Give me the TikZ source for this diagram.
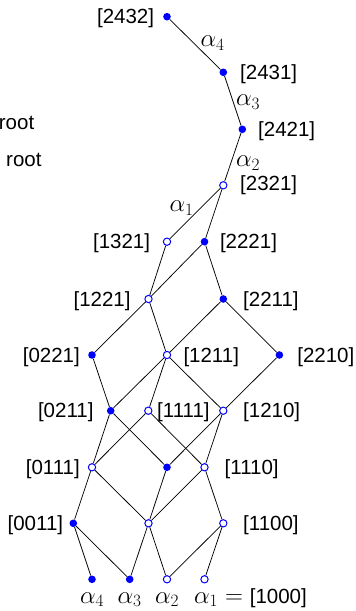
\documentclass[tikz,border=0pt]{standalone}
\usepackage{fontspec}
\setmainfont{Liberation Sans}
\begin{document}
\begin{tikzpicture}[x=1pt,y=-1pt, font=\fontsize{20.5}{24}\selectfont,
  fdot/.style={circle,fill=blue,inner sep=0pt,minimum size=7.6pt},
  odot/.style={circle,draw=blue,fill=white,line width=1pt,inner sep=0pt,minimum size=7.3pt},
  edge/.style={line width=0.75pt},
  rl/.style={anchor=base west,inner sep=0pt,xshift=#1,yshift=-7.2pt},
  ll/.style={anchor=base east,inner sep=0pt,xshift=-#1,yshift=-7.2pt},
  al/.style={inner sep=0pt,font=\fontsize{23}{27}\selectfont},
  bl/.style={anchor=base,inner sep=0pt,yshift=-23.7pt,font=\fontsize{23}{27}\selectfont}]
\useasboundingbox (0,0) rectangle (356,611);

% vertices
\node[fdot] (a2432) at (167,16.7) {};
\node[fdot] (a2431) at (223.3,72.3) {};
\node[fdot] (a2421) at (242.3,129.3) {};
\node[odot] (a2321) at (223.3,185.3) {};
\node[odot] (a1321) at (167,241.7) {};
\node[fdot] (a2221) at (204.5,241.7) {};
\node[odot] (a1221) at (148.5,299) {};
\node[fdot] (a2211) at (223.3,299) {};
\node[fdot] (a0221) at (92,355) {};
\node[odot] (a1211) at (167,355) {};
\node[fdot] (a2210) at (279.4,355) {};
\node[fdot] (a0211) at (110.7,410.7) {};
\node[odot] (a1111) at (148.3,410.7) {};
\node[odot] (a1210) at (223.3,410.7) {};
\node[odot] (a0111) at (92,467.3) {};
\node[fdot] (amid) at (167,467.3) {};
\node[odot] (a1110) at (204.5,467.3) {};
\node[fdot] (a0011) at (73.3,523.3) {};
\node[odot] (acen) at (148.5,523.3) {};
\node[odot] (a1100) at (223.3,523.3) {};
\node[fdot] (b4) at (92,579.3) {};
\node[fdot] (b3) at (129.7,579.3) {};
\node[odot] (b2) at (167,579.3) {};
\node[odot] (b1) at (204.5,579.3) {};

% edges
\draw[edge] (a2432) -- (a2431);
\draw[edge] (a2431) -- (a2421);
\draw[edge] (a2421) -- (a2321);
\draw[edge] (a2321) -- (a1321);
\draw[edge] (a2321) -- (a2221);
\draw[edge] (a1321) -- (a1221);
\draw[edge] (a2221) -- (a1221);
\draw[edge] (a2221) -- (a2211);
\draw[edge] (a1221) -- (a0221);
\draw[edge] (a1221) -- (a1211);
\draw[edge] (a2211) -- (a1211);
\draw[edge] (a2211) -- (a2210);
\draw[edge] (a0221) -- (a0211);
\draw[edge] (a1211) -- (a0211);
\draw[edge] (a1211) -- (a1111);
\draw[edge] (a1211) -- (a1210);
\draw[edge] (a2210) -- (a1210);
\draw[edge] (a0211) -- (a0111);
\draw[edge] (a0211) -- (amid);
\draw[edge] (a1111) -- (a0111);
\draw[edge] (a1111) -- (a1110);
\draw[edge] (a1210) -- (amid);
\draw[edge] (a1210) -- (a1110);
\draw[edge] (a0111) -- (a0011);
\draw[edge] (a0111) -- (acen);
\draw[edge] (amid) -- (acen);
\draw[edge] (a1110) -- (acen);
\draw[edge] (a1110) -- (a1100);
\draw[edge] (a0011) -- (b4);
\draw[edge] (a0011) -- (b3);
\draw[edge] (acen) -- (b3);
\draw[edge] (acen) -- (b2);
\draw[edge] (a1100) -- (b2);
\draw[edge] (a1100) -- (b1);

% vertex labels
\node[ll=12.7pt] (t2432) at (a2432) {[2432]};
\node[rl=16.7pt] (t2431) at (a2431) {[2431]};
\node[rl=15.7pt] (t2421) at (a2421) {[2421]};
\node[rl=16.7pt,yshift=2.3pt] (t2321) at (a2321) {[2321]};
\node[ll=16.7pt] (t1321) at (a1321) {[1321]};
\node[rl=15.3pt] (t2221) at (a2221) {[2221]};
\node[ll=17.7pt] (t1221) at (a1221) {[1221]};
\node[rl=19.7pt] (t2211) at (a2211) {[2211]};
\node[ll=12pt] (t0221) at (a0221) {[0221]};
\node[rl=16.3pt] (t1211) at (a1211) {[1211]};
\node[rl=17.7pt] (t2210) at (a2210) {[2210]};
\node[ll=17pt] (t0211) at (a0211) {[0211]};
\node[rl=8.7pt] (t1111) at (a1111) {[1111]};
\node[rl=19.7pt] (t1210) at (a1210) {[1210]};
\node[ll=12pt] (t0111) at (a0111) {[0111]};
\node[rl=20pt] (t1110) at (a1110) {[1110]};
\node[ll=10pt] (t0011) at (a0011) {[0011]};
\node[rl=19.7pt] (t1100) at (a1100) {[1100]};

% edge labels
\node[al] (e4) at (212.7,43) {$\alpha_4$};
\node[al] (e3) at (248,102) {$\alpha_3$};
\node[al] (e2) at (248,163) {$\alpha_2$};
\node[al] (e1) at (181.7,208) {$\alpha_1$};

% bottom labels
\node[bl] (s4) at (b4) {$\alpha_4$};
\node[bl] (s3) at (b3) {$\alpha_3$};
\node[bl] (s2) at (b2) {$\alpha_2$};
\node[anchor=base west,inner sep=0pt] (s1) at (194,603) {{\fontsize{23}{27}\selectfont$\alpha_1 = {}$}[1000]};

% left texts
\node[anchor=base west,inner sep=0pt] (root1) at (-1.3,129) {root};
\node[anchor=base west,inner sep=0pt] (root2) at (6,166) {root};
\end{tikzpicture}
\end{document}
